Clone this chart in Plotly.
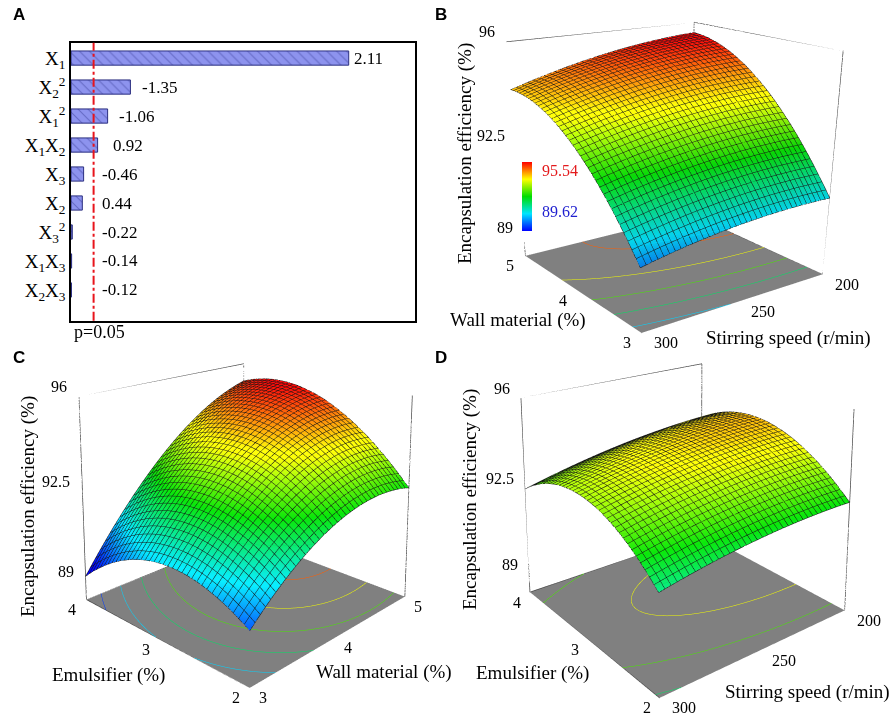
import numpy as np
import plotly.graph_objects as go

# ---------------- data ----------------
TERM_LABELS = ["X<sub>1</sub>", "X<sub>2</sub><sup>2</sup>", "X<sub>1</sub><sup>2</sup>",
               "X<sub>1</sub>X<sub>2</sub>", "X<sub>3</sub>", "X<sub>2</sub>",
               "X<sub>3</sub><sup>2</sup>", "X<sub>1</sub>X<sub>3</sub>", "X<sub>2</sub>X<sub>3</sub>"]
COEF_TEXT = ["2.11", "-1.35", "-1.06", "0.92", "-0.46", "0.44", "-0.22", "-0.14", "-0.12"]
BAR_LENGTH = [68.7, 14.7, 9.06, 6.58, 3.12, 2.80, 0.32, 0.15, 0.11]   # bar length (F value)
F_CRIT = 5.59                                                        # p = 0.05 line

# model coefficients shown in panel A (coded variables)
B0 = 94.2
B1, B2, B3 = 2.11, 0.44, -0.46
B12, B13, B23 = 0.92, -0.14, -0.12
B11, B22, B33 = -1.06, -1.35, -0.22

WALL_RANGE = [3, 5]          # X1, wall material (%)
EMUL_RANGE = [2, 4]          # X2, emulsifier (%)
SPEED_RANGE = [200, 300]     # X3, stirring speed (r/min)
Z_RANGE = [88.28, 96]
Z_TICKS = [89, 92.5, 96]
WALL_TICKS = [3, 4, 5]
EMUL_TICKS = [2, 3, 4]
SPEED_TICKS = [200, 250, 300]
CONTOUR_LEVELS = [90, 91, 92, 93, 94, 95]
LEGEND_HIGH, LEGEND_LOW = 95.54, 89.62

N = 37
wall = np.linspace(WALL_RANGE[0], WALL_RANGE[1], N)
emul = np.linspace(EMUL_RANGE[0], EMUL_RANGE[1], N)
speed = np.linspace(SPEED_RANGE[0], SPEED_RANGE[1], N)


def coded(v, r):
    return (v - (r[0] + r[1]) / 2) / ((r[1] - r[0]) / 2)


def model(x1, x2, x3):
    return (B0 + B1 * x1 + B2 * x2 + B3 * x3 + B12 * x1 * x2 + B13 * x1 * x3 + B23 * x2 * x3
            + B11 * x1 ** 2 + B22 * x2 ** 2 + B33 * x3 ** 2)


W_B, S_B = np.meshgrid(coded(wall, WALL_RANGE), coded(speed, SPEED_RANGE))
Z_B = model(W_B, 0, S_B)
W_C, E_C = np.meshgrid(coded(wall, WALL_RANGE), coded(emul, EMUL_RANGE))
Z_C = model(W_C, E_C, 0)
E_D, S_D = np.meshgrid(coded(emul, EMUL_RANGE), coded(speed, SPEED_RANGE))
Z_D = model(0, E_D, S_D)

# ---------------- styling ----------------
SERIF = "Liberation Serif, Times New Roman, DejaVu Serif, serif"
W, H = 893, 713
CS_POS = [0.0, 0.25, 0.5, 0.75, 1.0]
CS_RGB = [(0, 0, 255), (0, 229, 255), (0, 221, 0), (255, 255, 0), (255, 0, 0)]
COLORSCALE = [[p, "rgb(%d,%d,%d)" % c] for p, c in zip(CS_POS, CS_RGB)]


def level_color(v, dim=1.0):
    t = min(max((v - LEGEND_LOW) / (LEGEND_HIGH - LEGEND_LOW), 0), 1)
    rgb = [float(np.interp(t, CS_POS, [c[k] for c in CS_RGB])) * dim for k in range(3)]
    return "rgb(%d,%d,%d)" % tuple(rgb)


def px(x):
    return x / W


def py(y):
    return 1 - y / H


# ---------------- camera calibration (layout only) ----------------
# Target pixel positions of the visible box corners on the page (floor L, F, R; top L, back, R)
# and the corner sign pattern of each in (x, y, z) of the scene box.
FOCAL = (H / 2) / np.tan(np.pi / 8)          # scene domain spans the full page height


def fit_camera(dom_cx, targets, signs, p0, iters=300):
    targets = np.asarray(targets, float)
    signs = np.asarray(signs, float)

    def proj(p):
        eye, cen, ax, ay = p[:3], p[3:6], p[6], p[7]
        fwd = cen - eye
        fwd = fwd / np.linalg.norm(fwd)
        r = np.cross(fwd, [0, 0, 1.0]); r = r / np.linalg.norm(r)
        u = np.cross(r, fwd)
        pts = signs * np.array([ax / 2, ay / 2, 0.5])
        rel = pts - eye
        d = rel @ fwd
        sx = dom_cx + FOCAL * (rel @ r) / d
        sy = H / 2 - FOCAL * (rel @ u) / d
        return np.concatenate([sx, sy]) - np.concatenate([targets[:, 0], targets[:, 1]])

    p = np.array(p0, float)
    lam = 1e-3
    cost = np.sum(proj(p) ** 2)
    for _ in range(iters):
        res = proj(p)
        J = np.zeros((res.size, p.size))
        for k in range(p.size):
            dp = np.zeros_like(p); dp[k] = 1e-6
            J[:, k] = (proj(p + dp) - res) / 1e-6
        A = J.T @ J
        g = J.T @ res
        step = -np.linalg.solve(A + lam * np.diag(np.diag(A)) + 1e-9 * np.eye(p.size), g)
        pn = p + step
        if pn[6] > 0.2 and pn[7] > 0.2:
            cn = np.sum(proj(pn) ** 2)
        else:
            cn = np.inf
        if cn < cost:
            p, cost, lam = pn, cn, lam * 0.3
        else:
            lam *= 10
        if lam > 1e8:
            break
    return p


SIGNS = {
    "B": [(1, 1, -1), (-1, 1, -1), (-1, -1, -1), (1, 1, 1), (1, -1, 1), (-1, -1, 1)],
    "C": [(-1, 1, -1), (-1, -1, -1), (1, -1, -1), (-1, 1, 1), (1, 1, 1), (1, -1, 1)],
    "D": [(1, 1, -1), (-1, 1, -1), (-1, -1, -1), (1, 1, 1), (1, -1, 1), (-1, -1, 1)],
}
TARGETS = {
    "B": [(520, 256.7), (641.7, 332.3), (828.3, 275), (511, 42.7), (694.3, 19), (838.3, 51.7)],
    "C": [(87.3, 604), (249.3, 680.7), (403.3, 600.7), (76.7, 400), (243.3, 356.7), (416, 398.3)],
    "D": [(530, 596.7), (661, 690), (843.3, 615), (517.3, 400), (703.3, 356.7), (856, 413.3)],
}
DOM_X = {"B": (458, 890), "C": (25, 465), "D": (482, 892)}
P0 = {
    "B": [-2.96, 2.15, 1.02, -0.19, 0.14, -0.84, 0.93, 1.0],
    "C": [-2.71, -2.61, 1.30, 0.156, 0.151, 0.63, 1.0, 1.0],
    "D": [-2.94, 2.29, 1.54, 0.21, -0.17, 0.65, 0.98, 1.03],
}
CAM = {k: fit_camera((DOM_X[k][0] + DOM_X[k][1]) / 2, TARGETS[k], SIGNS[k], P0[k]) for k in "BCD"}

fig = go.Figure()

# ---------------- panel A ----------------
fig.add_trace(go.Bar(
    x=BAR_LENGTH, y=list(range(len(BAR_LENGTH))), orientation="h", width=0.49,
    marker=dict(color="#8d93ee", line=dict(color="#2b2f80", width=1),
                pattern=dict(shape="\\", fgcolor="#3a3f9a", bgcolor="#8d93ee", size=7, solidity=0.15)),
    hoverinfo="skip", showlegend=False, xaxis="x", yaxis="y"))

LABEL_GAP = [3, 10, 9, 13, 6, 6, 6, 6, 6]
annotations = []
for i, (v, t) in enumerate(zip(BAR_LENGTH, COEF_TEXT)):
    annotations.append(dict(x=max(v, F_CRIT), y=i, xref="x", yref="y", text=t, showarrow=False,
                            xanchor="left", yanchor="middle", xshift=LABEL_GAP[i],
                            font=dict(family=SERIF, size=17, color="black")))
annotations.append(dict(x=px(99), y=py(332), xref="paper", yref="paper", text="p=0.05", showarrow=False,
                        xanchor="center", yanchor="middle", font=dict(family=SERIF, size=18, color="black")))

# ---------------- 3D panels ----------------
MESH = dict(color="#151515", width=1, highlight=False)
LIGHT = dict(ambient=0.72, diffuse=0.45, specular=0.08, roughness=0.8, fresnel=0.1)


def surface(xv, yv, z, xr, yr, scene, showscale=False):
    s = dict(x=xv, y=yv, z=z, colorscale=COLORSCALE, cmin=LEGEND_LOW, cmax=LEGEND_HIGH,
             showscale=showscale, hoverinfo="skip", lighting=LIGHT, scene=scene,
             contours=dict(
                 x=dict(show=True, start=xr[0], end=xr[1], size=(xr[1] - xr[0]) / (N - 1), **MESH),
                 y=dict(show=True, start=yr[0], end=yr[1], size=(yr[1] - yr[0]) / (N - 1), **MESH),
                 z=dict(show=False, highlight=False)))
    if showscale:
        s["colorbar"] = dict(x=px(521.7), xanchor="left", y=py(196.5), yanchor="middle",
                             len=69, lenmode="pixels", thickness=10, outlinewidth=0,
                             showticklabels=False, ticks="", xpad=0, ypad=0)
    traces = [go.Surface(**s)]
    # floor contour lines, one hidden surface per level, projected to the floor
    for lv in CONTOUR_LEVELS:
        traces.append(go.Surface(
            x=xv, y=yv, z=z, hidesurface=True, showscale=False, hoverinfo="skip", scene=scene,
            colorscale=COLORSCALE, cmin=LEGEND_LOW, cmax=LEGEND_HIGH,
            contours=dict(x=dict(show=False, highlight=False), y=dict(show=False, highlight=False),
                          z=dict(show=True, start=lv, end=lv + 0.5, size=1, color=level_color(lv),
                                 width=3, project=dict(z=True), highlight=False))))
    return traces


def box_edges(xr, yr, zr, front, scene):
    fx, fy = front
    bx = xr[1] if fx == xr[0] else xr[0]
    by = yr[1] if fy == yr[0] else yr[0]
    xs, ys, zs = [], [], []

    def seg(pts):
        for p in pts:
            xs.append(p[0]); ys.append(p[1]); zs.append(p[2])
        xs.append(None); ys.append(None); zs.append(None)

    z0, z1 = zr
    seg([(xr[0], yr[0], z0), (xr[1], yr[0], z0), (xr[1], yr[1], z0), (xr[0], yr[1], z0), (xr[0], yr[0], z0)])
    for cx in xr:
        for cy in yr:
            if (cx, cy) != (fx, fy):
                seg([(cx, cy, z0), (cx, cy, z1)])
    seg([(fx, by, z1), (bx, by, z1), (bx, fy, z1)])
    return go.Scatter3d(x=xs, y=ys, z=zs, mode="lines", line=dict(color="#4a4a4a", width=1.5),
                        hoverinfo="skip", showlegend=False, scene=scene)


def axis(r, bg=False):
    return dict(range=r, autorange=False, showgrid=False, zeroline=False, showticklabels=False,
                ticks="", title=dict(text=""), showbackground=bg, backgroundcolor="#808080",
                showspikes=False, showline=False)


TICKFONT = dict(family=SERIF, size=16, color="black")


def tick_ann(xs, ys, zs, texts, xshift, yshift, xanchor="center"):
    return [dict(x=a, y=b, z=c, text=t, showarrow=False, xshift=xshift, yshift=yshift,
                 xanchor=xanchor, yanchor="middle", font=TICKFONT) for a, b, c, t in zip(xs, ys, zs, texts)]


def fmt(v):
    return ("%g" % v)


# B: x = wall, y = speed
fig.add_traces(surface(wall, speed, Z_B, WALL_RANGE, SPEED_RANGE, "scene", showscale=True))
fig.add_trace(box_edges(WALL_RANGE, SPEED_RANGE, Z_RANGE, (WALL_RANGE[0], SPEED_RANGE[1]), "scene"))
ann_B = (tick_ann([WALL_RANGE[1]] * 3, [SPEED_RANGE[1]] * 3, Z_TICKS, [fmt(t) for t in Z_TICKS], -9, 10, "right")
         + tick_ann(WALL_TICKS, [SPEED_RANGE[1]] * 3, [Z_RANGE[0]] * 3, [fmt(t) for t in WALL_TICKS], -15, -10)
         + tick_ann([WALL_RANGE[0]] * 3, SPEED_TICKS, [Z_RANGE[0]] * 3, [fmt(t) for t in SPEED_TICKS], 24, -10))

# C: x = wall, y = emulsifier
fig.add_traces(surface(wall, emul, Z_C, WALL_RANGE, EMUL_RANGE, "scene2"))
fig.add_trace(box_edges(WALL_RANGE, EMUL_RANGE, Z_RANGE, (WALL_RANGE[0], EMUL_RANGE[0]), "scene2"))
ann_C = (tick_ann([WALL_RANGE[0]] * 3, [EMUL_RANGE[1]] * 3, Z_TICKS, [fmt(t) for t in Z_TICKS], -10, 10, "right")
         + tick_ann([WALL_RANGE[0]] * 3, EMUL_TICKS, [Z_RANGE[0]] * 3, [fmt(t) for t in EMUL_TICKS], -14, -10)
         + tick_ann(WALL_TICKS, [EMUL_RANGE[0]] * 3, [Z_RANGE[0]] * 3, [fmt(t) for t in WALL_TICKS], 13, -10))

# D: x = emulsifier, y = speed
fig.add_traces(surface(emul, speed, Z_D, EMUL_RANGE, SPEED_RANGE, "scene3"))
fig.add_trace(box_edges(EMUL_RANGE, SPEED_RANGE, Z_RANGE, (EMUL_RANGE[0], SPEED_RANGE[1]), "scene3"))
ann_D = (tick_ann([EMUL_RANGE[1]] * 3, [SPEED_RANGE[1]] * 3, Z_TICKS, [fmt(t) for t in Z_TICKS], -9, 10, "right")
         + tick_ann(EMUL_TICKS, [SPEED_RANGE[1]] * 3, [Z_RANGE[0]] * 3, [fmt(t) for t in EMUL_TICKS], -13, -10)
         + tick_ann([EMUL_RANGE[0]] * 3, SPEED_TICKS, [Z_RANGE[0]] * 3, [fmt(t) for t in SPEED_TICKS], 24, -10))


def scene(key, xr, yr, ann):
    p = CAM[key]
    return dict(domain=dict(x=[px(DOM_X[key][0]), px(DOM_X[key][1])], y=[0, 1]),
                xaxis=axis(xr), yaxis=axis(yr), zaxis=axis(Z_RANGE, bg=True),
                aspectmode="manual", aspectratio=dict(x=float(p[6]), y=float(p[7]), z=1.0),
                camera=dict(eye=dict(x=float(p[0]), y=float(p[1]), z=float(p[2])), up=dict(x=0, y=0, z=1),
                            center=dict(x=float(p[3]), y=float(p[4]), z=float(p[5])),
                            projection=dict(type="perspective")),
                annotations=ann, bgcolor="rgba(0,0,0,0)", dragmode=False)


# titles & labels (paper)
def title(x, y, text, angle=0, size=19):
    return dict(x=px(x), y=py(y), xref="paper", yref="paper", text=text, showarrow=False,
                xanchor="center", yanchor="middle",
                textangle=angle, font=dict(family=SERIF, size=size, color="black"))


annotations += [
    title(518, 320, "Wall material (%)"), title(788, 338, "Stirring speed (r/min)"),
    title(465, 153, "Encapsulation efficiency (%)", -90),
    title(108, 675, "Emulsifier (%)"), title(384, 672, "Wall material (%)"),
    title(28, 507, "Encapsulation efficiency (%)", -90),
    title(532, 673, "Emulsifier (%)"), title(807, 692, "Stirring speed (r/min)"),
    title(470, 500, "Encapsulation efficiency (%)", -90),
    dict(x=px(540), y=py(171), xref="paper", yref="paper", text="%.2f" % LEGEND_HIGH, showarrow=False,
         xanchor="left", yanchor="middle", font=dict(family=SERIF, size=16, color="#e31a1c")),
    dict(x=px(540), y=py(211), xref="paper", yref="paper", text="%.2f" % LEGEND_LOW, showarrow=False,
         xanchor="left", yanchor="middle", font=dict(family=SERIF, size=16, color="#1f1fcf")),
]
for lab, (x, y) in zip("ABCD", [(19, 15), (441, 15), (19, 357), (441, 357)]):
    annotations.append(dict(x=px(x), y=py(y), xref="paper", yref="paper", text="<b>%s</b>" % lab,
                            xanchor="center", yanchor="middle",
                            showarrow=False, font=dict(family="Liberation Sans, Arial, sans-serif",
                                                       size=17, color="black")))

fig.update_layout(
    width=W, height=H, margin=dict(l=0, r=0, t=0, b=0), paper_bgcolor="white", plot_bgcolor="white",
    showlegend=False, font=dict(family=SERIF),
    xaxis=dict(domain=[px(71), px(415)], range=[0, 85.1], showticklabels=False, ticks="", showgrid=False,
               zeroline=False, showline=True, mirror=True, linecolor="black", linewidth=1.5, fixedrange=True),
    yaxis=dict(domain=[py(320.7), py(42.7)], range=[9.06, -0.53], tickvals=list(range(len(TERM_LABELS))),
               ticktext=TERM_LABELS, tickfont=dict(family=SERIF, size=19, color="black"), ticks="",
               showgrid=False, zeroline=False, showline=True, mirror=True, linecolor="black",
               linewidth=1.5, fixedrange=True),
    shapes=[dict(type="line", xref="x", yref="y domain", x0=F_CRIT, x1=F_CRIT, y0=0, y1=1,
                 line=dict(color="#e8141c", width=2, dash="dashdot"))],
    scene=scene("B", WALL_RANGE, SPEED_RANGE, ann_B),
    scene2=scene("C", WALL_RANGE, EMUL_RANGE, ann_C),
    scene3=scene("D", EMUL_RANGE, SPEED_RANGE, ann_D),
    annotations=annotations,
)

fig.write_html("out.html", config={"displayModeBar": False},
               post_script="document.body.style.margin='0px';")
